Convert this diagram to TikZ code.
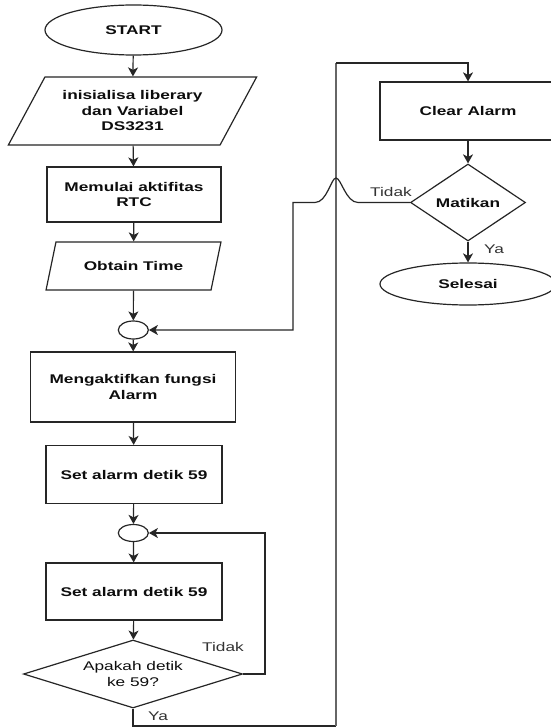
\documentclass[tikz,border=0pt]{standalone}
\usepackage{fontspec}
\setmainfont{Liberation Sans}[FakeStretch=1.37]
\usetikzlibrary{shapes.geometric,arrows.meta}
\tikzset{
  base/.style={font=\fontsize{12.6}{15.5}\selectfont\bfseries, text=black!95, draw=black!85, line width=1.2pt, inner sep=0pt, align=center},
  proc/.style={base, rectangle},
  term/.style={base, ellipse},
  io/.style={base, trapezium, trapezium stretches=true},
  dec/.style={base, diamond},
  conn/.style={base, ellipse, minimum width=30, minimum height=18},
  arr/.style={-{Stealth[length=9pt,width=10pt,inset=2.5pt]}, draw=black!85, line width=1.2pt},
  wire/.style={draw=black!85, line width=1.2pt},
  lbl/.style={font=\fontsize{12.6}{15.5}\selectfont, text=black!80, inner sep=0pt}
}
\begin{document}
\begin{tikzpicture}[x=1pt,y=-1pt]
\useasboundingbox (0,0) rectangle (550,727);
\fill[white] (0,0) rectangle (550,727);
% left column
\node[term, minimum width=177, minimum height=50] (start) at (133.5,30) {START};
\node[io, minimum width=249, minimum height=68, trapezium left angle=54, trapezium right angle=126] (init) at (132.5,111) {inisialisa liberary\\dan Variabel\\DS3231};
\node[proc, minimum width=174, minimum height=55] (rtc) at (134,194.5) {Memulai aktifitas\\RTC};
\node[io, minimum width=175, minimum height=48, trapezium left angle=55.5, trapezium right angle=124.5] (obtain) at (133.5,266) {Obtain Time};
\node[conn] (c1) at (133.3,330) {};
\node[proc, minimum width=205, minimum height=70] (alarmfn) at (133,387) {Mengaktifkan fungsi\\Alarm};
\node[proc, minimum width=176, minimum height=58] (set1) at (134,474.5) {Set alarm detik 59};
\node[conn, minimum height=17] (c2) at (133.3,533) {};
\node[proc, minimum width=176, minimum height=57] (set2) at (134,591.5) {Set alarm detik 59};
\node[dec, font=\fontsize{12.6}{15.5}\selectfont, minimum width=219, minimum height=68, aspect=3.2] (dec1) at (133,674) {Apakah detik\\ke 59?};
% right column
\node[proc, minimum width=176, minimum height=58] (clear) at (468,111) {Clear Alarm};
\node[dec, minimum width=115, minimum height=77, aspect=1.5] (dec2) at (468,202.5) {Matikan};
\node[term, minimum width=176, minimum height=42] (stop) at (468,284) {Selesai};
% helper points
\coordinate (l2a) at (265,674);
\coordinate (l2b) at (265,533);
\coordinate (jb) at (133,726);
\coordinate (jc) at (336,726);
\coordinate (jt) at (336,63);
\coordinate (jr) at (468,63);
\coordinate (h1) at (358,202.5);
\coordinate (hp) at (336,178);
\coordinate (h2) at (315,202.5);
\coordinate (l1a) at (293,202.5);
\coordinate (l1b) at (293,330);
% main flow
\draw[arr] (start) -- (init);
\draw[arr] (init) -- (rtc);
\draw[arr] (rtc) -- (obtain);
\draw[arr] (obtain) -- (c1);
\draw[arr] (c1) -- (alarmfn);
\draw[arr] (alarmfn) -- (set1);
\draw[arr] (set1) -- (c2);
\draw[arr] (c2) -- (set2);
\draw[arr] (set2) -- (dec1);
\draw[arr] (dec1.east) -- (l2a) -- (l2b) -- (c2.east);
\draw[wire] (dec1.south) -- (jb) -- (jc);
\draw[wire, draw=black!60, line width=1.6pt] (jc) -- (jt);
\draw[arr] (jt) -- (jr) -- (clear.north);
\draw[arr] (clear) -- (dec2);
\draw[arr] (dec2) -- (stop);
\draw[arr] (dec2.west) -- (h1) .. controls (346,202.5) and (341,178) .. (hp) .. controls (331,178) and (327,202.5) .. (h2) -- (l1a) -- (l1b) -- (c1.east);
% labels
\node[lbl] (t1) at (223,647) {Tidak};
\node[lbl] (y1) at (158,716) {Ya};
\node[lbl] (t2) at (391,192) {Tidak};
\node[lbl] (y2) at (494,249) {Ya};
\end{tikzpicture}
\end{document}
